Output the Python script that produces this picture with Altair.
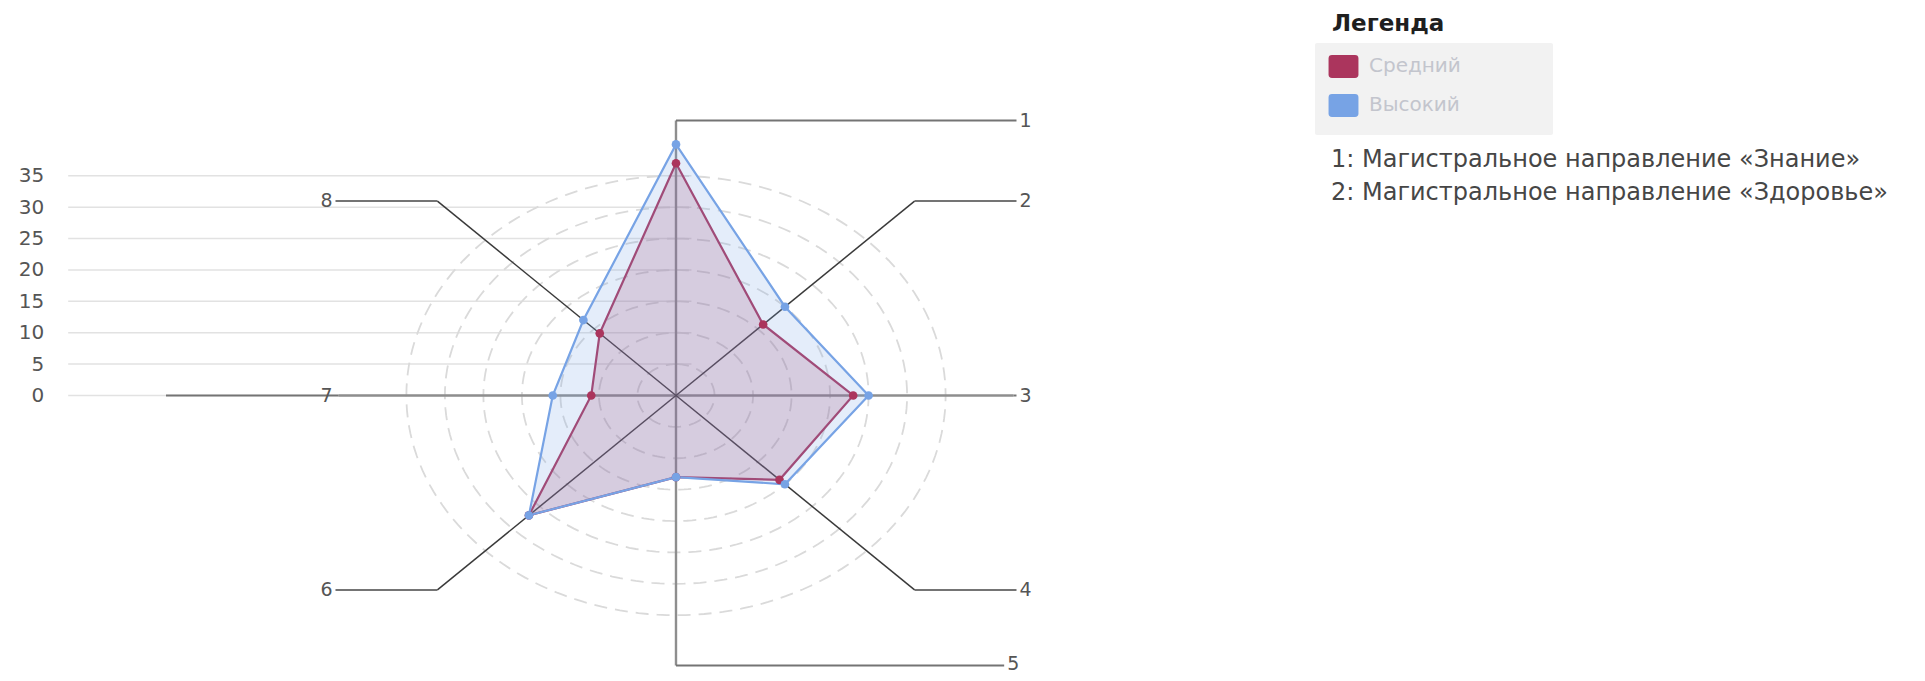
import math
import altair as alt
import pandas as pd

# ---------------- data ----------------
axes = [1, 2, 3, 4, 5, 6, 7, 8]
axis_labels = ["1", "2", "3", "4", "5", "6", "7", "8"]
series_names = ["Средний", "Высокий"]
sredniy = [37, 16, 23, 19, 13, 27, 11, 14]
vysokiy = [40, 20, 25, 20, 13, 27, 16, 17]
ring_values = [5, 10, 15, 20, 25, 30, 35]
tick_values = [0, 5, 10, 15, 20, 25, 30, 35]
legend_title = "Легенда"
notes = ["1: Магистральное направление «Знание»",
         "2: Магистральное направление «Здоровье»"]

# ---------------- styles / layout ----------------
series_colors = ["#ab355d", "#77a3e5"]
fill_colors = ["#a8345a", "#7aa6e6"]
FONT = "DejaVu Sans"

KX = 7.7037   # px per unit, horizontal (the original is stretched horizontally)
KY = 6.277    # px per unit, vertical
X_DOM = [-80, 55]
Y_DOM = [-43.6, 46]
W = (X_DOM[1] - X_DOM[0]) * KX
H = (Y_DOM[1] - Y_DOM[0]) * KY
PAD_L = 51.7
PAD_T = 98.76
TOTAL_W = 1905
TOTAL_H = 665
PAD_R = TOTAL_W - PAD_L - W
PAD_B = TOTAL_H - PAD_T - H

SPOKE = {1: 43.8, 2: 43.8, 3: 43.8, 4: 43.8, 5: 43.0, 6: 43.8, 7: 43.8, 8: 43.8}
LEAD_END = {1: 44.2, 2: 44.2, 3: 44.2, 4: 44.2, 5: 42.6, 6: -44.2, 7: -66.2, 8: -44.2}
LABEL_X = {1: 44.2, 2: 44.2, 3: 44.2, 4: 44.2, 5: 42.6, 6: -44.2, 7: -44.2, 8: -44.2}
GRID_X0, GRID_X1 = -78.9, 2.0

xs = alt.Scale(domain=X_DOM, nice=False, zero=False)
ys = alt.Scale(domain=Y_DOM, nice=False, zero=False)
yaxis = alt.Axis(values=tick_values, title=None, grid=False, domain=False, ticks=False,
                 labelPadding=16, labelFontSize=20, labelColor="#555555", labelFont=FONT)


def X(f):
    return alt.X(f, type="quantitative", scale=xs, axis=None)


def Y(f):
    return alt.Y(f, type="quantitative", scale=ys, axis=yaxis)


# ---------------- tables built from the arrays ----------------
radar_df = pd.DataFrame({
    "axis": axes * 2,
    "series": [s for s in series_names for _ in axes],
    "value": sredniy + vysokiy,
})

segs, labs = [], []
for a in axes:
    th = (a - 1) * math.pi / 4
    ex = round(SPOKE[a] * math.sin(th), 4)
    ey = round(SPOKE[a] * math.cos(th), 4)
    segs.append(dict(x=0.0, y=0.0, x2=ex, y2=ey, kind="diag" if a % 2 == 0 else "main"))
    segs.append(dict(x=ex, y=ey, x2=LEAD_END[a], y2=ey, kind="lead"))
    labs.append(dict(x=LABEL_X[a], y=ey, label=axis_labels[a - 1],
                     side="L" if a >= 6 else ("B" if a == 5 else "R")))
seg_df = pd.DataFrame(segs)
lab_df = pd.DataFrame(labs)

# ---------------- layers ----------------
grid = alt.Chart(pd.DataFrame({"tick": tick_values})).transform_calculate(
    gx0=str(GRID_X0), gx1=str(GRID_X1)
).mark_rule(color="#e2e2e2", strokeWidth=1.5).encode(
    x=X("gx0"), x2="gx1:Q", y=Y("tick")
)

rings = alt.Chart(pd.DataFrame({"r": ring_values})).transform_calculate(
    ang="sequence(0, 362, 2)"
).transform_flatten(["ang"]).transform_calculate(
    cx="datum.r * sin(datum.ang * PI / 180)",
    cy="datum.r * cos(datum.ang * PI / 180)",
).mark_line(strokeDash=[13, 8], color="#dadada", strokeWidth=1.8).encode(
    x=X("cx"), y=Y("cy"), detail="r:N", order="ang:Q"
)

seg_base = alt.Chart(seg_df)
seg_layers = []
for kind, col, sw in [("main", "#8e8e8e", 2.4), ("lead", "#747474", 2.0), ("diag", "#3a3a3a", 1.5)]:
    seg_layers.append(
        seg_base.transform_filter(alt.datum.kind == kind)
        .mark_rule(color=col, strokeWidth=sw)
        .encode(x=X("x"), y=Y("y"), x2="x2:Q", y2="y2:Q")
    )

ROUND_RECT = ("M -1.0 -1 L 1.0 -1 Q 1.3 -1 1.3 -0.7 L 1.3 0.7 Q 1.3 1 1.0 1 "
              "L -1.0 1 Q -1.3 1 -1.3 0.7 L -1.3 -0.7 Q -1.3 -1 -1.0 -1 Z")
legend = alt.Legend(
    title=legend_title, orient="none", legendX=1272.3, legendY=-93.8,
    titleFont=FONT, titleFontSize=23, titleFontWeight="bold", titleColor="#1f1f1f",
    titlePadding=19, labelFont=FONT, labelFontSize=20, labelColor="#c3c5cd",
    labelOffset=14, symbolType=ROUND_RECT, symbolSize=529, symbolStrokeWidth=0,
    symbolOpacity=1, rowPadding=16, padding=0,
)
color = alt.Color("series:N", scale=alt.Scale(domain=series_names, range=series_colors),
                  legend=legend)

radar = alt.Chart(radar_df).transform_calculate(
    px="datum.value * sin((datum.axis - 1) * PI / 4)",
    py="datum.value * cos((datum.axis - 1) * PI / 4)",
)
polys = []
for name, fc in zip(series_names, fill_colors):
    polys.append(
        radar.transform_filter(alt.datum.series == name)
        .mark_line(interpolate="linear-closed", fill=fc, fillOpacity=0.2, strokeWidth=2.2)
        .encode(x=X("px"), y=Y("py"), order="axis:Q", color=color)
    )
points = radar.mark_circle(size=75, opacity=1).encode(x=X("px"), y=Y("py"), color=color)

lab_base = alt.Chart(lab_df)
lab_r = lab_base.transform_filter(alt.datum.side == "R").mark_text(
    align="left", baseline="middle", dx=3, fontSize=19, font=FONT, color="#555555"
).encode(x=X("x"), y=Y("y"), text="label:N")
lab_b = lab_base.transform_filter(alt.datum.side == "B").mark_text(
    align="left", baseline="middle", dx=3, dy=-1, fontSize=19, font=FONT, color="#555555"
).encode(x=X("x"), y=Y("y"), text="label:N")
lab_l = lab_base.transform_filter(alt.datum.side == "L").mark_text(
    align="right", baseline="middle", dx=-3, fontSize=19, font=FONT, color="#555555"
).encode(x=X("x"), y=Y("y"), text="label:N")

legend_box = alt.Chart(pd.DataFrame({"k": [0]})).mark_rect(
    color="#f2f2f2", cornerRadius=2
).encode(x=alt.value(1255.3), x2=alt.value(1493.3), y=alt.value(-63.76), y2=alt.value(28.24))

note_layers = []
for i, n in enumerate(notes):
    note_layers.append(
        alt.Chart(pd.DataFrame({"t": [n]})).mark_text(
            align="left", baseline="alphabetic", fontSize=24, font=FONT, color="#464646"
        ).encode(x=alt.value(1271.3), y=alt.value(60.2 + 33 * i), text="t:N")
    )

chart = alt.layer(
    grid, rings, *seg_layers, *polys, points, lab_r, lab_b, lab_l, legend_box, *note_layers
).properties(
    width=W, height=H,
    padding={"left": PAD_L, "top": PAD_T, "right": PAD_R, "bottom": PAD_B},
    autosize=alt.AutoSizeParams(type="none"),
    background="white",
).configure_view(strokeWidth=0)

chart.save("out.html", embed_options={"renderer": "svg", "actions": False})
